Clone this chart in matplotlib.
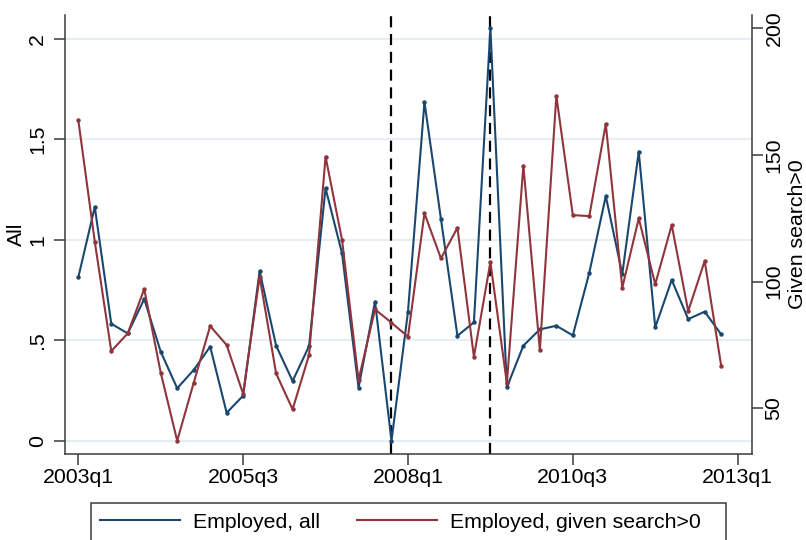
import matplotlib
matplotlib.use("Agg")
import matplotlib.pyplot as plt
from matplotlib.patches import Rectangle

plt.rcParams['font.family'] = ['Liberation Sans', 'DejaVu Sans']

# Quarterly index: 0 = 2003q1 ... 39 = 2012q4
quarters = list(range(40))

employed_all = [
    0.813, 1.163, 0.582, 0.534, 0.705, 0.443, 0.261, 0.352, 0.468, 0.139,
    0.224, 0.844, 0.473, 0.297, 0.471, 1.256, 0.932, 0.264, 0.692, 0.000,
    0.642, 1.685, 1.103, 0.522, 0.589, 2.052, 0.266, 0.473, 0.554, 0.572,
    0.524, 0.836, 1.217, 0.829, 1.438, 0.564, 0.800, 0.605, 0.642, 0.529,
]

employed_given_search = [
    163.8, 115.8, 72.6, 79.6, 97.1, 64.1, 37.2, 60.1, 82.5, 75.0,
    55.7, 102.0, 63.8, 49.6, 71.1, 149.4, 116.5, 61.2, 89.1, 83.8,
    78.3, 127.0, 109.2, 121.3, 70.4, 107.7, 59.9, 145.8, 73.0, 173.4,
    126.3, 125.9, 162.3, 97.6, 125.0, 99.0, 122.4, 88.4, 108.2, 66.8,
]

xtick_pos = [0, 10, 20, 30, 40]
xtick_labels = ['2003q1', '2005q3', '2008q1', '2010q3', '2013q1']
left_ticks = [0, 0.5, 1, 1.5, 2]
left_tick_labels = ['0', '.5', '1', '1.5', '2']
right_ticks = [50, 100, 150, 200]
event_quarters = [19, 25]  # 2007q4, 2009q2

BLUE = '#1a476f'
RED = '#90353b'
GRID = '#e6eef2'
AXC = '#3a3a3a'
FS = 15.3

fig = plt.figure(figsize=(8.06, 5.40), dpi=100)
AX_L, AX_R, AX_T, AX_B = 65, 752, 15, 454
ax = fig.add_axes([AX_L / 806, 1 - AX_B / 540, (AX_R - AX_L) / 806, (AX_B - AX_T) / 540])
ax2 = ax.twinx()

ax.set_xlim(-0.807, 40.87)
ax.set_ylim(-0.066, 2.118)
ax2.set_ylim(31.98, 205.3)

# horizontal grid at the left-axis ticks
for v in left_ticks:
    ax.axhline(v, color=GRID, lw=1.5, zorder=0)

for q in event_quarters:
    ax.axvline(q, color='black', lw=1.6, ls=(0, (5, 3)), zorder=1)

l1, = ax.plot(quarters, employed_all, color=BLUE, lw=1.5, marker='o', ms=2.2,
              zorder=3, label='Employed, all')
l2, = ax2.plot(quarters, employed_given_search, color=RED, lw=1.5, marker='o',
               ms=2.2, zorder=3, label='Employed, given search>0')

ax.set_xticks(xtick_pos)
ax.set_xticklabels(xtick_labels, fontsize=FS)
ax.set_yticks(left_ticks)
ax.set_yticklabels(left_tick_labels, fontsize=FS, rotation=90, va='center')
ax2.set_yticks(right_ticks)
ax2.set_yticklabels([str(t) for t in right_ticks], fontsize=FS, rotation=90, va='center')

ax.tick_params(axis='x', length=8, width=1.1, color=AXC, pad=2)
ax.tick_params(axis='y', length=8, width=1.1, color=AXC, pad=5)
ax2.tick_params(axis='y', length=8, width=1.1, color=AXC, pad=1)

width_px = AX_R - AX_L
ax.set_ylabel('All', fontsize=FS)
ax.yaxis.set_label_coords((16.5 - AX_L) / width_px, 0.5)
ax.yaxis.label.set(ha='center', va='center', rotation_mode='anchor')
ax2.set_ylabel('Given search>0', fontsize=FS, rotation=90)
ax2.yaxis.set_label_coords((797.5 - AX_L) / width_px, 0.5)
ax2.yaxis.label.set(ha='center', va='center', rotation_mode='anchor')

for a in (ax, ax2):
    a.spines['top'].set_visible(False)
    for s in ('left', 'right', 'bottom'):
        a.spines[s].set_color(AXC)
        a.spines[s].set_linewidth(1.1)
ax.spines['right'].set_visible(False)
ax2.spines['left'].set_visible(False)
ax2.spines['bottom'].set_visible(False)

ax.set_zorder(ax2.get_zorder() - 1)
ax.patch.set_visible(True)
ax2.patch.set_visible(False)
ax.patch.set_facecolor('white')

# legend box below the plot
fig.patches.append(Rectangle((90.5 / 806, -0.2), (725.7 - 90.5) / 806,
                             (540 - 502.5) / 540 + 0.2, transform=fig.transFigure,
                             facecolor='white', edgecolor=AXC, lw=1.1, zorder=0))
leg = fig.legend([l1, l2], [l1.get_label(), l2.get_label()], loc='center left',
                 bbox_to_anchor=(100 / 806, 1 - 522 / 540), ncol=2, frameon=False,
                 fontsize=FS, handlelength=3.77, handletextpad=0.61,
                 columnspacing=1.75, borderpad=0, borderaxespad=0)
for h in leg.legend_handles:
    h.set_marker('')
    h.set_linewidth(1.5)

fig.savefig('out.png', dpi=100)
